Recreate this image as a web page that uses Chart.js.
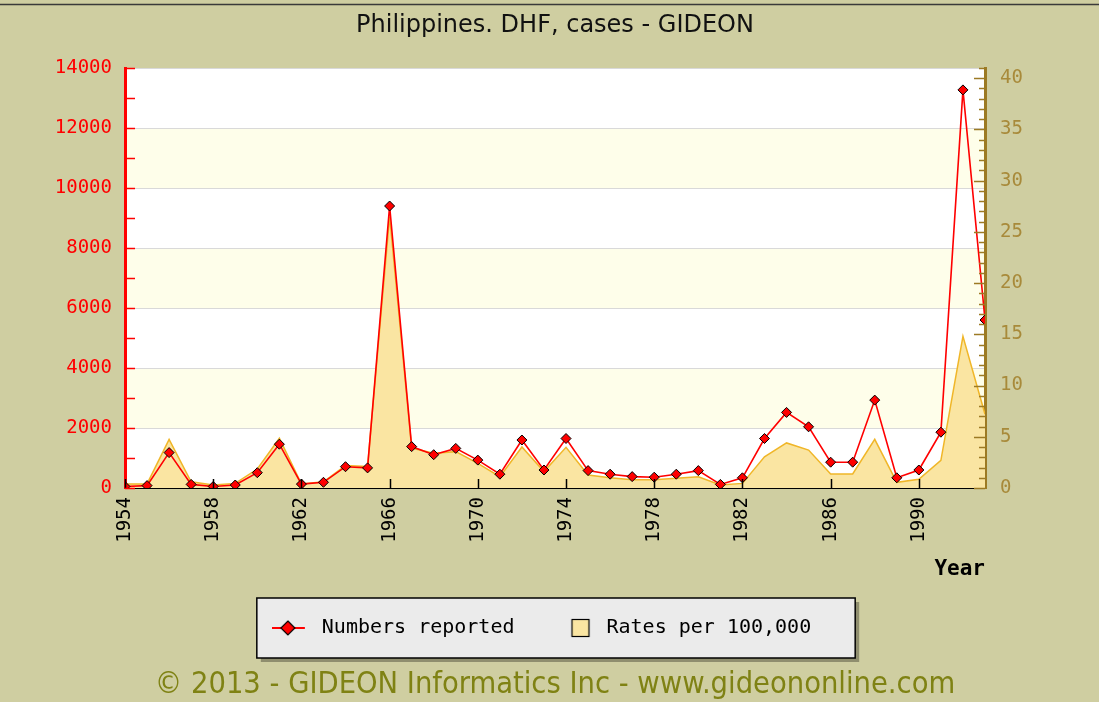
<!DOCTYPE html>
<html>
<head>
<meta charset="utf-8">
<script src="https://cdn.jsdelivr.net/npm/chart.js@4.4.1/dist/chart.umd.min.js"></script>
<style>
  html, body { margin: 0; padding: 0; background: #cfcea1; }
  #wrap { width: 1099px; height: 702px; }
</style>
</head>
<body>
<div id="wrap"><canvas id="c" width="1099" height="702"></canvas></div>
<script>
// ---- data ----
const years = [1954,1955,1956,1957,1958,1959,1960,1961,1962,1963,1964,1965,1966,1967,1968,1969,1970,1971,1972,1973,1974,1975,1976,1977,1978,1979,1980,1981,1982,1983,1984,1985,1986,1987,1988,1989,1990,1991,1992,1993];
const numbersReported = [50,80,1180,120,50,100,510,1460,130,190,710,670,9400,1380,1110,1320,930,460,1600,600,1650,580,460,380,360,460,580,120,340,1650,2520,2040,860,860,2930,340,600,1860,13270,5600];
const ratesPer100k = [0.4,0.4,4.75,0.6,0.3,0.45,1.85,4.85,0.4,0.6,2.2,2.1,26.5,3.9,3.4,3.55,2.4,1.1,4.0,1.6,3.97,1.27,1.0,0.8,0.8,0.95,1.1,0.3,0.45,3.05,4.4,3.7,1.37,1.37,4.75,0.55,0.85,2.7,14.8,7.2];
const xTickYears = [1954,1958,1962,1966,1970,1974,1978,1982,1986,1990];
const titleText = 'Philippines. DHF, cases - GIDEON';
const footerText = '\u00A9 2013 - GIDEON Informatics Inc - www.gideononline.com';
const seriesNames = ['Numbers reported', 'Rates per 100,000'];
const xAxisTitle = 'Year';

// ---- styles ----
const BG = '#cfcea1';
const RED = '#ff0000';
const BROWN = '#9c7a24';
const BROWN_TXT = '#a88a3a';
const FILL = 'rgb(250,229,162)';
const FILL_BORDER = 'rgb(240,182,40)';
const MONO = "'DejaVu Sans Mono', 'Liberation Mono', monospace";

// legend images
function legendLineImg() {
  const c = document.createElement('canvas'); c.width = 40; c.height = 20;
  const g = c.getContext('2d');
  g.strokeStyle = RED; g.lineWidth = 2;
  g.beginPath(); g.moveTo(0, 10); g.lineTo(33, 10); g.stroke();
  g.beginPath(); g.moveTo(16, 3); g.lineTo(23, 10); g.lineTo(16, 17); g.lineTo(9, 10); g.closePath();
  g.fillStyle = RED; g.fill(); g.strokeStyle = '#000'; g.lineWidth = 1.2; g.stroke();
  return c;
}
function legendBoxImg() {
  const c = document.createElement('canvas'); c.width = 40; c.height = 20;
  const g = c.getContext('2d');
  g.fillStyle = FILL; g.fillRect(15.5, 1.5, 17, 17);
  g.strokeStyle = '#000'; g.lineWidth = 1.2; g.strokeRect(15.5, 1.5, 17, 17);
  return c;
}
const legendImgs = [legendLineImg(), legendBoxImg()];

const decor = {
  id: 'decor',
  beforeDraw(chart) {
    const ctx = chart.ctx, ca = chart.chartArea, y = chart.scales.y;
    ctx.save();
    ctx.fillStyle = BG; ctx.fillRect(0, 0, chart.width, chart.height);
    ctx.strokeStyle = '#3a3a3a'; ctx.lineWidth = 1.5;
    ctx.beginPath(); ctx.moveTo(0, 4.5); ctx.lineTo(chart.width, 4.5); ctx.stroke();
    // plot bands
    const ticks = y.ticks.map(t => t.value);
    for (let i = 0; i < ticks.length - 1; i++) {
      const y0 = y.getPixelForValue(ticks[i]), y1 = y.getPixelForValue(ticks[i + 1]);
      ctx.fillStyle = (i % 2 === 1) ? '#fefeea' : '#ffffff';
      ctx.fillRect(ca.left, y1, ca.right - ca.left, y0 - y1);
    }
    // legend frame
    const lg = chart.legend;
    if (lg && lg.legendHitBoxes && lg.legendHitBoxes.length) {
      const hb = lg.legendHitBoxes;
      const bx = hb[0].left - 15, by = hb[0].top + hb[0].height / 2 - 30;
      const last = hb[hb.length - 1];
      const bw = (last.left + last.width) - hb[0].left + 15 + 44, bh = 60;
      ctx.fillStyle = '#8f8e6e';
      ctx.fillRect(bx + 4, by + 4, bw, bh);
      ctx.fillStyle = '#ebebeb';
      ctx.fillRect(bx, by, bw, bh);
      ctx.strokeStyle = '#000'; ctx.lineWidth = 1.5;
      ctx.strokeRect(bx, by, bw, bh);
    }
    ctx.restore();
  },
  afterDraw(chart) {
    const ctx = chart.ctx, ca = chart.chartArea;
    const x = chart.scales.x, y = chart.scales.y, y1 = chart.scales.y1;
    ctx.save();
    ctx.lineWidth = 1.5;
    ctx.strokeStyle = '#000';
    x.ticks.forEach(t => {
      const px = Math.round(x.getPixelForValue(t.value)) + 0.5;
      ctx.beginPath(); ctx.moveTo(px, ca.bottom); ctx.lineTo(px, ca.bottom - 9); ctx.stroke();
    });
    ctx.strokeStyle = RED;
    for (let v = y.min; v <= y.max; v += 1000) {
      const py = Math.round(y.getPixelForValue(v)) + 0.5;
      ctx.beginPath(); ctx.moveTo(ca.left, py); ctx.lineTo(ca.left + 10, py); ctx.stroke();
    }
    ctx.strokeStyle = BROWN;
    for (let v = 0; v <= y1.max; v += 1) {
      const py = Math.round(y1.getPixelForValue(v)) + 0.5;
      const len = (v % 5 === 0) ? 11 : 6;
      ctx.beginPath(); ctx.moveTo(ca.right, py); ctx.lineTo(ca.right - len, py); ctx.stroke();
    }
    ctx.restore();
  }
};

new Chart(document.getElementById('c'), {
  type: 'line',
  data: {
    labels: years,
    datasets: [
      {
        label: seriesNames[0],
        data: years.map((yr, i) => ({x: yr, y: numbersReported[i]})),
        yAxisID: 'y',
        borderColor: RED,
        borderWidth: 1.6,
        pointStyle: 'rectRot',
        pointRadius: 5,
        pointBackgroundColor: RED,
        pointBorderColor: '#000',
        pointBorderWidth: 1,
        tension: 0,
        fill: false,
        order: 0
      },
      {
        label: seriesNames[1],
        data: years.map((yr, i) => ({x: yr, y: ratesPer100k[i]})),
        yAxisID: 'y1',
        borderColor: FILL_BORDER,
        backgroundColor: FILL,
        borderWidth: 1.5,
        pointRadius: 0,
        tension: 0,
        fill: 'origin',
        order: 1
      }
    ]
  },
  options: {
    responsive: false,
    animation: false,
    events: [],
    layout: { padding: { left: 0, right: 16, top: 0, bottom: 0 } },
    plugins: {
      tooltip: { enabled: false },
      title: {
        display: true,
        text: titleText,
        fullSize: false,
        color: '#111',
        font: { family: "'DejaVu Sans', sans-serif", size: 24, weight: 'normal', lineHeight: 1.2 },
        padding: { top: 11, bottom: 28.2 }
      },
      subtitle: {
        display: true,
        position: 'bottom',
        fullSize: false,
        text: footerText,
        color: '#7f8214',
        font: { family: "'DejaVu Sans Condensed', 'DejaVu Sans', sans-serif", size: 30.5, weight: 'normal', lineHeight: '34px' },
        padding: { top: 20, bottom: 0 }
      },
      legend: {
        display: true,
        position: 'bottom',
        labels: {
          usePointStyle: true,
          pointStyleWidth: 40,
          boxHeight: 20,
          padding: 42,
          color: '#000',
          font: { family: MONO, size: 20 },
          generateLabels(chart) {
            const items = Chart.defaults.plugins.legend.labels.generateLabels(chart);
            items.forEach(it => { it.pointStyle = legendImgs[it.datasetIndex]; it.fontColor = '#000'; });
            return items;
          }
        }
      }
    },
    scales: {
      x: {
        type: 'linear',
        min: years[0],
        max: years[years.length - 1],
        afterBuildTicks(scale) { scale.ticks = xTickYears.map(v => ({ value: v })); },
        afterFit(scale) { scale.height = 88; },
        grid: { display: false, drawTicks: false },
        border: { display: true, color: '#000', width: 2 },
        ticks: {
          minRotation: 90, maxRotation: 90, padding: 9, autoSkip: false,
          color: '#000',
          font: { family: MONO, size: 19 },
          callback: v => String(v)
        },
        title: {
          display: true, text: xAxisTitle, align: 'end', color: '#000',
          font: { family: MONO, size: 21, weight: 'bold', lineHeight: '12px' },
          padding: 0
        }
      },
      y: {
        position: 'left',
        min: 0, max: 14000,
        afterFit(scale) { scale.width = 125; },
        ticks: { stepSize: 2000, color: RED, padding: 13, font: { family: MONO, size: 19 }, callback: v => String(v) },
        grid: { color: '#d9d9d9', lineWidth: 1, drawTicks: false },
        border: { display: true, color: RED, width: 3 }
      },
      y1: {
        position: 'right',
        min: 0, max: 41,
        afterFit(scale) { scale.width = 98; },
        ticks: { stepSize: 5, includeBounds: false, color: BROWN_TXT, padding: 15, font: { family: MONO, size: 19 }, callback: v => String(v) },
        grid: { display: false, drawTicks: false },
        border: { display: true, color: BROWN, width: 3 }
      }
    }
  },
  plugins: [decor]
});
</script>
</body>
</html>
